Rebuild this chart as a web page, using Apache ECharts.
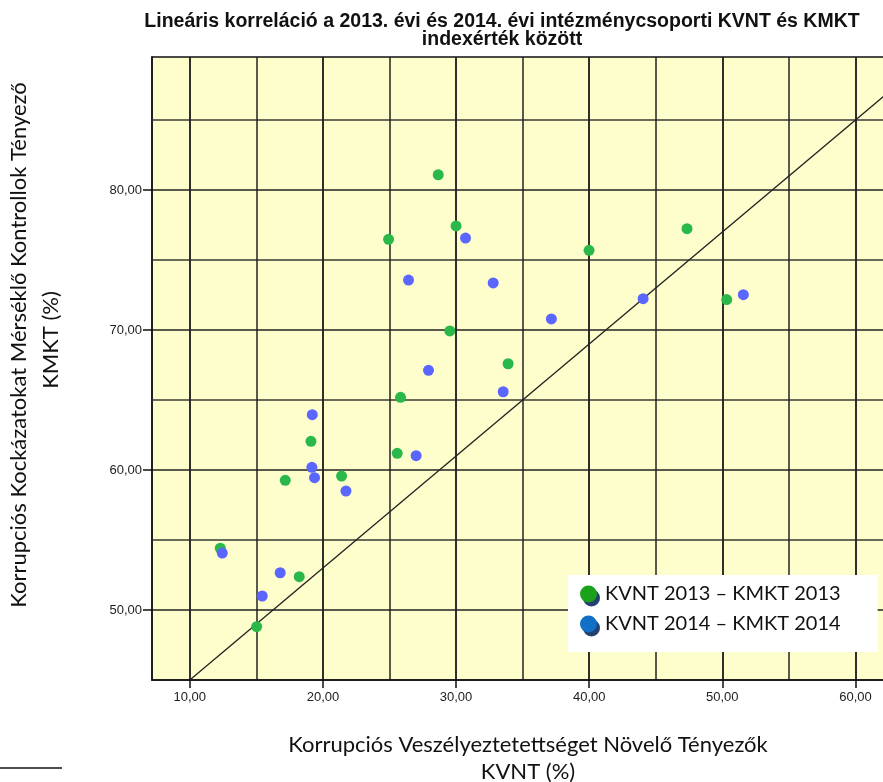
<!DOCTYPE html>
<html>
<head>
<meta charset="utf-8">
<script src="https://cdn.jsdelivr.net/npm/echarts@6/dist/echarts.min.js"></script>
<style>html,body{margin:0;padding:0;background:#fff}#c{width:883px;height:782px}</style>
</head>
<body>
<div id="c"></div>
<script>
// KVNT 2013 – KMKT 2013 (green)
const kvnt2013 = [28.66, 30.0, 24.93, 29.53, 33.91, 25.83, 19.1, 25.58, 21.4, 17.17, 12.29, 18.22, 15.02, 39.99, 47.35, 50.33];
const kmkt2013 = [81.09, 77.43, 76.48, 69.93, 67.59, 65.19, 62.05, 61.19, 59.57, 59.26, 54.41, 52.38, 48.81, 75.69, 77.24, 72.17];
// KVNT 2014 – KMKT 2014 (blue)
const kvnt2014 = [30.71, 26.43, 32.79, 27.93, 33.54, 37.16, 19.2, 27.0, 19.17, 19.37, 21.73, 12.44, 16.79, 15.44, 44.05, 51.58];
const kmkt2014 = [76.57, 73.57, 73.36, 67.12, 65.59, 70.79, 63.95, 61.02, 60.19, 59.45, 58.5, 54.07, 52.66, 51.0, 72.24, 72.52];
// reference line
const lineX = [10, 65];
const lineY = [45, 89];
// ticks
const xLabelTicks = [10, 20, 30, 40, 50, 60];
const xGridTicks = [10, 15, 20, 25, 30, 35, 40, 45, 50, 55, 60];
const yLabelTicks = [50, 60, 70, 80];
const yMinorTicks = [55, 65, 75, 85];
const seriesNames = ['KVNT 2013 – KMKT 2013', 'KVNT 2014 – KMKT 2014'];

const zip = (a, b) => a.map((v, i) => [v, b[i]]);
const fmt = v => v.toFixed(2).replace('.', ',');
const chart = echarts.init(document.getElementById('c'), null, {renderer: 'canvas'});
const labelFont = {fontFamily: 'Liberation Sans', fontSize: 13, color: '#222'};
const capFont = 'Lato';

chart.setOption({
  animation: false,
  backgroundColor: '#fff',
  title: {
    text: 'Lineáris korreláció a 2013. évi és 2014. évi intézménycsoporti KVNT és KMKT\nindexérték között',
    left: 497, top: 7, textAlign: 'center',
    textStyle: {fontFamily: 'Liberation Sans', fontWeight: 'bold', fontSize: 19.5, lineHeight: 18.5, color: '#111'}
  },
  grid: {left: 152, top: 57, width: 770, height: 623, outerBoundsMode: 'none', containLabel: false, show: true, backgroundColor: '#FEFECC', borderColor: '#111', borderWidth: 1.5},
  xAxis: [
    {type: 'value', min: 7.16, max: 65, position: 'bottom',
     axisLine: {show: true, lineStyle: {color: '#111', width: 1.5}},
     axisTick: {show: true, length: 8, customValues: xLabelTicks, lineStyle: {color: '#111', width: 1.5}},
     axisLabel: {customValues: xLabelTicks, formatter: fmt, margin: 11, ...labelFont},
     splitLine: {show: true, lineStyle: {color: '#222', width: 1.5}}},
    {type: 'value', min: 7.16, max: 65, position: 'bottom',
     axisLine: {show: false}, axisTick: {show: false, customValues: xGridTicks}, axisLabel: {show: false, customValues: xGridTicks},
     splitLine: {show: true, lineStyle: {color: '#222', width: 1.5}}}
  ],
  yAxis: [
    {type: 'value', min: 45, max: 89.5, position: 'left',
     axisLine: {show: true, lineStyle: {color: '#111', width: 1.5}},
     axisTick: {show: true, length: 9, customValues: yLabelTicks, lineStyle: {color: '#111', width: 1.5}},
     axisLabel: {customValues: yLabelTicks, formatter: fmt, margin: 10, ...labelFont},
     splitLine: {show: true, lineStyle: {color: '#222', width: 1.5}}},
    {type: 'value', min: 45, max: 89.5, position: 'left',
     axisLine: {show: false}, axisTick: {show: false, customValues: yMinorTicks}, axisLabel: {show: false, customValues: yMinorTicks},
     splitLine: {show: true, lineStyle: {color: '#6b6b5a', width: 2}}}
  ],
  legend: {
    left: 568, top: 575, orient: 'vertical',
    backgroundColor: '#fff', padding: [9, 37, 18, 12],
    itemWidth: 17, itemHeight: 17, itemGap: 10, icon: 'circle',
    textStyle: {fontFamily: capFont, fontSize: 20, color: '#111', padding: [0, 0, 0, 3]},
    data: [
      {name: seriesNames[0], itemStyle: {color: '#1BA21B', shadowColor: '#24406E', shadowOffsetX: 3, shadowOffsetY: 4, shadowBlur: 0}},
      {name: seriesNames[1], itemStyle: {color: '#1170C6', shadowColor: '#24406E', shadowOffsetX: 3, shadowOffsetY: 4, shadowBlur: 0}}
    ]
  },
  graphic: [
    {type: 'text', style: {text: 'Korrupciós Kockázatokat Mérséklő Kontrollok Tényező', x: 0, y: 0, align: 'center', verticalAlign: 'middle', font: '22px ' + capFont, fill: '#111'}, rotation: Math.PI / 2, x: 19, y: 345},
    {type: 'text', style: {text: 'KMKT (%)', x: 0, y: 0, align: 'center', verticalAlign: 'middle', font: '22px ' + capFont, fill: '#111'}, rotation: Math.PI / 2, x: 51, y: 340},
    {type: 'text', style: {text: 'Korrupciós Veszélyeztetettséget Növelő Tényezők', x: 0, y: 0, align: 'center', verticalAlign: 'middle', font: '22px ' + capFont, fill: '#111'}, x: 528, y: 745},
    {type: 'text', style: {text: 'KVNT (%)', x: 0, y: 0, align: 'center', verticalAlign: 'middle', font: '22px ' + capFont, fill: '#111'}, x: 528, y: 772},
    {type: 'line', shape: {x1: 0, y1: 768, x2: 62, y2: 768}, style: {stroke: '#111', lineWidth: 1.5}}
  ],
  series: [
    {name: 'ref', type: 'line', data: zip(lineX, lineY), symbol: 'none', lineStyle: {color: '#222', width: 1.3}, silent: true, z: 1},
    {name: seriesNames[0], type: 'scatter', data: zip(kvnt2013, kmkt2013), symbolSize: 11, itemStyle: {color: '#2BB84A', opacity: 1}, z: 3},
    {name: seriesNames[1], type: 'scatter', data: zip(kvnt2014, kmkt2014), symbolSize: 11, itemStyle: {color: '#5B66FF', opacity: 1}, z: 3}
  ]
});
</script>
</body>
</html>
